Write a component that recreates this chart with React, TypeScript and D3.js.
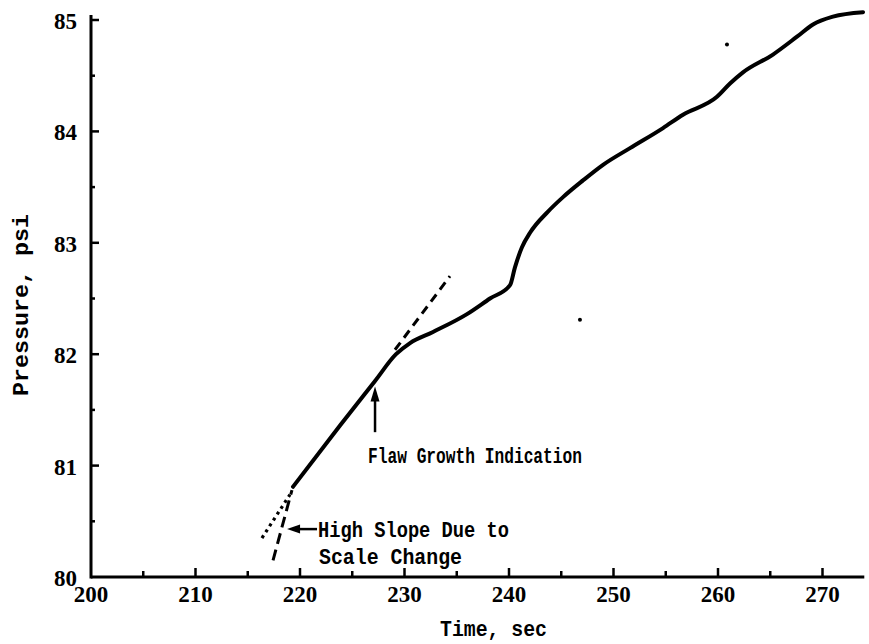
import React from "react";
import * as d3 from "d3";

// Pressure trace (time in seconds, pressure in psi)
const timeSec = [
  219.33, 223.83, 227.18, 229.19, 230.53, 232.73, 235.98, 238.18, 240.1,
  240.57, 241.24, 242.01, 243.73, 245.17, 247.08, 249.0, 251.58, 254.74,
  256.65, 259.9, 261.15, 262.39, 265.26, 267.56, 269.09, 271.0, 273.88,
];
const pressurePsi = [
  80.81, 81.36, 81.76, 82.0, 82.1, 82.2, 82.36, 82.5, 82.62,
  82.78, 82.96, 83.09, 83.28, 83.41, 83.56, 83.7, 83.85, 84.03,
  84.15, 84.31, 84.43, 84.53, 84.69, 84.85, 84.96, 85.03, 85.07,
];

// Tangent construction lines
const flawTangentT = [229.09, 234.35];
const flawTangentP = [82.04, 82.7];
const slopeDottedT = [216.36, 219.04];
const slopeDottedP = [80.35, 80.74];
const slopeDashedT = [217.42, 219.23];
const slopeDashedP = [80.15, 80.78];

// Isolated specks on the record
const speckT = [260.86, 246.79];
const speckP = [84.78, 82.31];

const xMajorTicks = [200, 210, 220, 230, 240, 250, 260, 270];
const xMinorTicks = [205, 215, 225, 235, 245, 255, 265];
const yMajorTicks = [80, 81, 82, 83, 84, 85];
const yMinorTicks = [80.5, 81.5, 82.5, 83.5, 84.5];

const W = 869;
const H = 644;

export default function App() {
  const x = d3.scaleLinear().domain([200, 274]).range([91, 864.3]);
  const y = d3.scaleLinear().domain([80, 85]).range([577, 20]);

  const pts: [number, number][] = timeSec.map((t, i) => [x(t), y(pressurePsi[i])]);
  const line = d3.line().curve(d3.curveMonotoneX);
  const trace = line(pts) || "";

  const seg = (ts: number[], ps: number[]) =>
    d3.line()(ts.map((t, i) => [x(t), y(ps[i])] as [number, number])) || "";

  const serif = "'Liberation Serif', 'DejaVu Serif', serif";
  const mono = "'Liberation Mono', 'DejaVu Sans Mono', monospace";
  const ink = "#000";

  // Flaw growth arrow (points up to the curve)
  const fa = { t: 227.18, tipP: 81.71, tailP: 81.3 };
  const fx = x(fa.t);
  const fTip = y(fa.tipP);
  const fTail = y(fa.tailP);

  // High-slope arrow (points left)
  const ha = { p: 80.43, tipT: 218.76, tailT: 221.63 };
  const hy = y(ha.p);
  const hTip = x(ha.tipT);
  const hTail = x(ha.tailT);

  return (
    <svg
      width={W}
      height={H}
      viewBox={`0 0 ${W} ${H}`}
      style={{ position: "absolute", left: 0, top: 0, background: "#fff" }}
    >
      <rect width={W} height={H} fill="#fff" />

      {/* axes */}
      <line x1={x(200)} y1={y(80)} x2={x(274)} y2={y(80)} stroke={ink} strokeWidth={3} />
      <line x1={x(200)} y1={y(80) + 1.5} x2={x(200)} y2={y(85) - 5} stroke={ink} strokeWidth={3} />

      {/* x ticks, drawn inward */}
      {xMajorTicks.filter((t) => t > 200).map((t) => (
        <line key={"xM" + t} x1={x(t)} x2={x(t)} y1={y(80)} y2={y(80) - 9} stroke={ink} strokeWidth={2.5} />
      ))}
      {xMinorTicks.map((t) => (
        <line key={"xm" + t} x1={x(t)} x2={x(t)} y1={y(80)} y2={y(80) - 6} stroke={ink} strokeWidth={2.5} />
      ))}
      {/* y ticks, drawn inward */}
      {yMajorTicks.filter((p) => p > 80).map((p) => (
        <line key={"yM" + p} x1={x(200)} x2={x(200) + 8} y1={y(p)} y2={y(p)} stroke={ink} strokeWidth={2.5} />
      ))}
      {yMinorTicks.map((p) => (
        <line key={"ym" + p} x1={x(200)} x2={x(200) + 4} y1={y(p)} y2={y(p)} stroke={ink} strokeWidth={2.5} />
      ))}

      {/* tick labels */}
      {xMajorTicks.map((t) => (
        <text
          key={"xl" + t}
          x={x(t)}
          y={y(80) + 25}
          textAnchor="middle"
          fontFamily={serif}
          fontWeight="bold"
          fontSize={23}
          fill={ink}
        >
          {t}
        </text>
      ))}
      {yMajorTicks.map((p) => (
        <text
          key={"yl" + p}
          x={77}
          y={y(p) + 9}
          textAnchor="end"
          fontFamily={serif}
          fontWeight="bold"
          fontSize={23}
          fill={ink}
        >
          {p}
        </text>
      ))}

      {/* axis titles */}
      <text
        x={440}
        y={636}
        fontFamily={mono}
        fontWeight="bold"
        fontSize={22}
        textLength={107}
        lengthAdjust="spacingAndGlyphs"
        fill={ink}
      >
        Time, sec
      </text>
      <text
        transform="translate(28,396) rotate(-90)"
        x={0}
        y={0}
        fontFamily={mono}
        fontWeight="bold"
        fontSize={22}
        textLength={182}
        lengthAdjust="spacingAndGlyphs"
        fill={ink}
      >
        Pressure, psi
      </text>

      {/* construction lines */}
      <path d={seg(flawTangentT, flawTangentP)} fill="none" stroke={ink} strokeWidth={3} strokeDasharray="9,6" />
      <path d={seg(slopeDottedT, slopeDottedP)} fill="none" stroke={ink} strokeWidth={3.2} strokeDasharray="3,4" />
      <path d={seg(slopeDashedT, slopeDashedP)} fill="none" stroke={ink} strokeWidth={3} strokeDasharray="11,6" />

      {/* pressure trace */}
      <path d={trace} fill="none" stroke={ink} strokeWidth={4} strokeLinejoin="round" strokeLinecap="round" />

      {/* specks */}
      {speckT.map((t, i) => (
        <circle key={"s" + i} cx={x(t)} cy={y(speckP[i])} r={2} fill={ink} />
      ))}

      {/* flaw growth annotation */}
      <line x1={fx} x2={fx} y1={fTail} y2={fTip + 10} stroke={ink} strokeWidth={2.5} />
      <path d={`M${fx},${fTip} L${fx - 4.5},${fTip + 15} L${fx + 4.5},${fTip + 15} Z`} fill={ink} />
      <text
        x={368}
        y={463}
        fontFamily={mono}
        fontWeight="bold"
        fontSize={22}
        textLength={214}
        lengthAdjust="spacingAndGlyphs"
        fill={ink}
      >
        Flaw Growth Indication
      </text>

      {/* high slope annotation */}
      <line x1={hTail} x2={hTip + 10} y1={hy} y2={hy} stroke={ink} strokeWidth={2.5} />
      <path d={`M${hTip},${hy} L${hTip + 13},${hy - 4.5} L${hTip + 13},${hy + 4.5} Z`} fill={ink} />
      <text
        x={318}
        y={537}
        fontFamily={mono}
        fontWeight="bold"
        fontSize={22}
        textLength={191}
        lengthAdjust="spacingAndGlyphs"
        fill={ink}
      >
        High Slope Due to
      </text>
      <text
        x={319}
        y={564}
        fontFamily={mono}
        fontWeight="bold"
        fontSize={22}
        textLength={143}
        lengthAdjust="spacingAndGlyphs"
        fill={ink}
      >
        Scale Change
      </text>
    </svg>
  );
}
